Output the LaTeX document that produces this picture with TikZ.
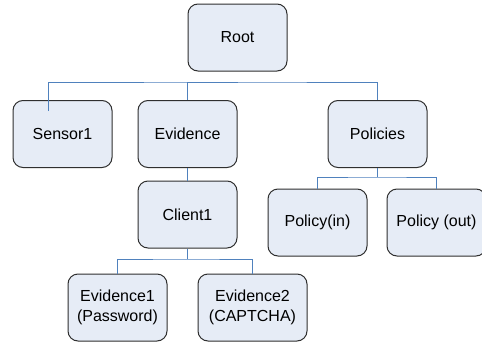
\documentclass[tikz,border=0pt]{standalone}
\usepackage{fontspec}
\setmainfont{Liberation Sans}
\definecolor{boxfill}{HTML}{E6ECF6}
\definecolor{boxline}{HTML}{2F2F2F}
\definecolor{linkblue}{HTML}{4F81BD}
\tikzset{
  treebox/.style={draw=boxline, fill=boxfill, line width=1pt, rounded corners=10pt,
    minimum width=99pt, minimum height=67pt, inner sep=2pt, align=center,
    font=\fontsize{16}{20.5}\selectfont},
  link/.style={draw=linkblue, line width=1pt}
}
\begin{document}
\begin{tikzpicture}[x=1pt, y=-1pt]
\clip (0,0) rectangle (482,343);
\fill[white] (0,0) rectangle (482,343);

% tree nodes
\node[treebox] (root) at (237.5,37.5) {Root};
\node[treebox] (sensor) at (62.5,134) {Sensor1};
\node[treebox] (evidence) at (187.5,134) {Evidence};
\node[treebox] (policies) at (377.5,134) {Policies};
\node[treebox] (client) at (187.5,214.5) {Client1};
\node[treebox] (polin) at (317.5,222.5) {Policy(in)};
\node[treebox] (polout) at (436.5,222.5) {Policy (out)};
\node[treebox] (evone) at (117.5,307.5) {Evidence1\\(Password)};
\node[treebox, minimum width=109pt] (evtwo) at (252.5,307.5) {Evidence2\\(CAPTCHA)};

% junction points of the connectors
\coordinate (rootbar) at (237.5,82);
\coordinate (polbar) at (377.5,177);
\coordinate (clientbar) at (187.5,259);

% first level
\draw[link] ([xshift=-14.5pt,yshift=-11pt]sensor.north) |- (rootbar) -| (policies.north);
\draw[link] (evidence.north) |- (rootbar);

% evidence branch
\draw[link] (evidence) -- (client);
\draw[link] (client.south) -- (clientbar);
\draw[link] (evone.north) |- (clientbar) -| (evtwo.north);

% policies branch
\draw[link] (policies.south) -- (polbar);
\draw[link] (polin.north) |- (polbar) -| (polout.north);
\end{tikzpicture}
\end{document}
